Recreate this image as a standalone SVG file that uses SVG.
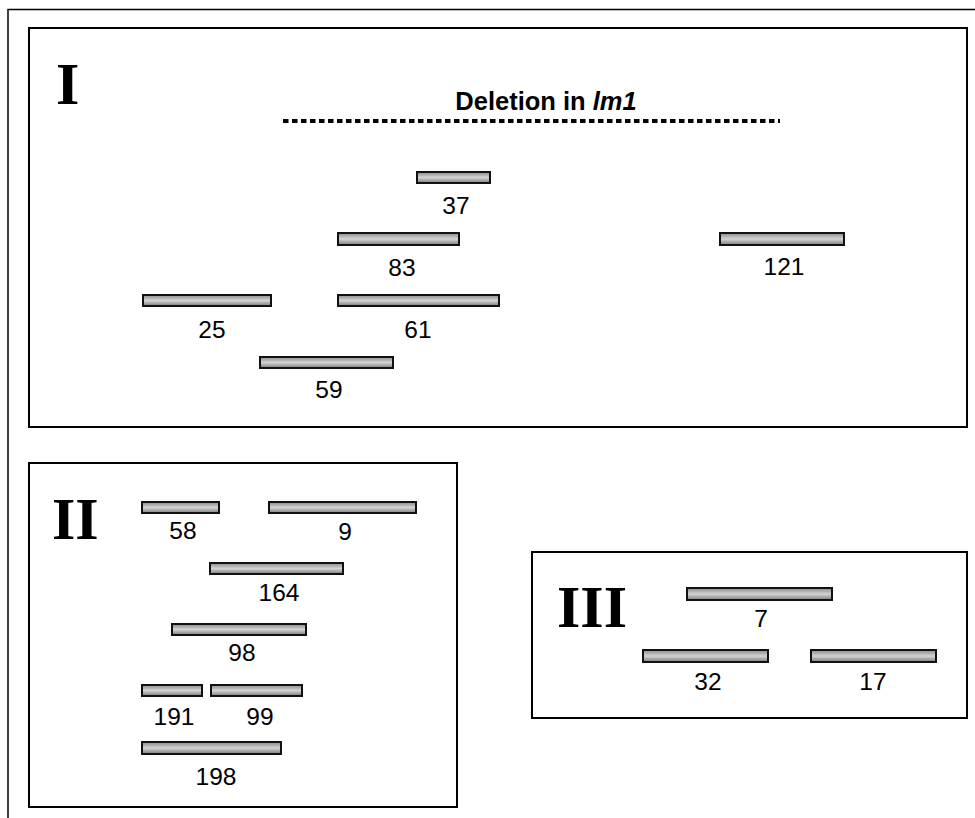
<svg xmlns="http://www.w3.org/2000/svg" width="975" height="818" viewBox="0 0 975 818">
  <defs>
    <linearGradient id="barFill" x1="0" y1="0" x2="0" y2="1">
      <stop offset="0" stop-color="#8c8c8c"/>
      <stop offset="0.3" stop-color="#b4b4b4"/>
      <stop offset="0.5" stop-color="#d4d4d4"/>
      <stop offset="0.7" stop-color="#b0b0b0"/>
      <stop offset="1" stop-color="#7c7c7c"/>
    </linearGradient>
  </defs>
  <style>
    .frame { fill: none; stroke: #000; stroke-width: 1.5; }
    .box { fill: #fff; stroke: #000; stroke-width: 2; }
    .bar { fill: url(#barFill); stroke: #111; stroke-width: 2; }
    .num { font-family: "Liberation Sans", Arial, sans-serif; font-size: 24.5px; fill: #000; text-anchor: middle; }
    .roman { font-family: "Liberation Serif", "Times New Roman", serif; font-weight: bold; font-size: 60px; fill: #000; }
    .title { font-family: "Liberation Sans", Arial, sans-serif; font-weight: bold; font-size: 25.5px; fill: #000; text-anchor: middle; }
    .deletion { fill: none; stroke: #000; stroke-width: 4; stroke-dasharray: 5.5 3.5; }
  </style>
  <rect width="975" height="818" fill="#fff"/>

  <!-- page frame: top and left rules -->
  <path class="frame" d="M8,818 V9.5 H975"/>

  <!-- group I -->
  <g id="group-I">
    <rect class="box" x="29" y="28" width="938" height="399"/>
    <text class="roman" x="56" y="104">I</text>
    <text class="title" x="546" y="110">Deletion in <tspan font-style="italic">lm1</tspan></text>
    <line class="deletion" x1="283" y1="121" x2="780" y2="121"/>
  </g>
  <g id="clone-37"><rect class="bar" x="417" y="172" width="73" height="11"/><text class="num" x="456" y="214">37</text></g>
  <g id="clone-83"><rect class="bar" x="338" y="233" width="121" height="12"/><text class="num" x="402" y="276">83</text></g>
  <g id="clone-121"><rect class="bar" x="720" y="233" width="124" height="12"/><text class="num" x="784" y="275">121</text></g>
  <g id="clone-25"><rect class="bar" x="143" y="295" width="128" height="11"/><text class="num" x="212" y="338">25</text></g>
  <g id="clone-61"><rect class="bar" x="338" y="295" width="161" height="11"/><text class="num" x="418" y="338">61</text></g>
  <g id="clone-59"><rect class="bar" x="260" y="357" width="133" height="11"/><text class="num" x="329" y="398">59</text></g>

  <!-- group II -->
  <g id="group-II">
    <rect class="box" x="29" y="463" width="428" height="344"/>
    <text class="roman" x="52" y="539">II</text>
  </g>
  <g id="clone-58"><rect class="bar" x="142" y="502" width="77" height="11"/><text class="num" x="183" y="539">58</text></g>
  <g id="clone-9"><rect class="bar" x="269" y="502" width="147" height="11"/><text class="num" x="345" y="540">9</text></g>
  <g id="clone-164"><rect class="bar" x="210" y="563" width="133" height="11"/><text class="num" x="279" y="601">164</text></g>
  <g id="clone-98"><rect class="bar" x="172" y="624" width="134" height="11"/><text class="num" x="242" y="661">98</text></g>
  <g id="clone-191"><rect class="bar" x="142" y="685" width="60" height="11"/><text class="num" x="174" y="725">191</text></g>
  <g id="clone-99"><rect class="bar" x="211" y="685" width="91" height="11"/><text class="num" x="260" y="725">99</text></g>
  <g id="clone-198"><rect class="bar" x="142" y="742" width="139" height="12"/><text class="num" x="216" y="785">198</text></g>

  <!-- group III -->
  <g id="group-III">
    <rect class="box" x="532" y="552" width="435" height="166"/>
    <text class="roman" x="557" y="627">III</text>
  </g>
  <g id="clone-7"><rect class="bar" x="687" y="588" width="145" height="12"/><text class="num" x="761" y="627">7</text></g>
  <g id="clone-32"><rect class="bar" x="643" y="650" width="125" height="12"/><text class="num" x="708" y="690">32</text></g>
  <g id="clone-17"><rect class="bar" x="811" y="650" width="125" height="12"/><text class="num" x="873" y="690">17</text></g>
</svg>
